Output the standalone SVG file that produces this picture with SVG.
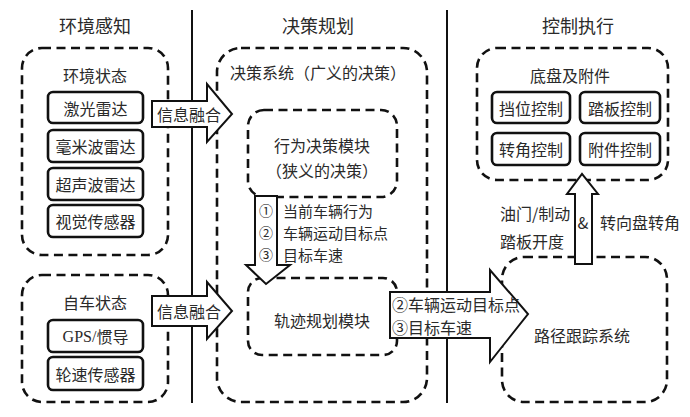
<svg xmlns="http://www.w3.org/2000/svg" width="690" height="417" viewBox="0 0 690 417">
<style>
  text { font-family: "Noto Sans CJK SC", "Noto Sans", sans-serif; fill: #2a2a2a; dominant-baseline: central; }
  .h { font-size: 18px; text-anchor: middle; }
  .t { font-size: 16px; text-anchor: middle; }
  .l { font-size: 16px; text-anchor: start; }
  .s { font-size: 15px; text-anchor: start; }
  .dash { fill: none; stroke: #111; stroke-width: 2.6; stroke-dasharray: 9 5.5; }
  .box { fill: #fff; stroke: #111; stroke-width: 2.6; }
  .arr { fill: #fff; stroke: #111; stroke-width: 2; stroke-linejoin: miter; }
  .sep { stroke: #111; stroke-width: 2; }
  .num { font-family: "Noto Sans CJK SC", "DejaVu Sans", sans-serif; font-size: 14px; text-anchor: middle; }
</style>
<rect width="690" height="417" fill="#fff"/>

<g id="separators">
  <line class="sep" x1="192" y1="10" x2="192" y2="403"/>
  <line class="sep" x1="447" y1="10" x2="447" y2="403"/>
</g>

<g id="headers">
  <text class="h" x="95" y="25">环境感知</text>
  <text class="h" x="318" y="25">决策规划</text>
  <text class="h" x="578" y="25">控制执行</text>
</g>

<g id="env-state">
  <rect class="dash" x="22" y="48" width="146" height="207" rx="20"/>
  <text class="t" x="95" y="75">环境状态</text>
</g>
<g id="lidar"><rect class="box" x="48" y="92" width="95" height="31" rx="5"/><text class="t" x="95.5" y="107.5">激光雷达</text></g>
<g id="mmwave"><rect class="box" x="48" y="130" width="95" height="32" rx="5"/><text class="t" x="95.5" y="146">毫米波雷达</text></g>
<g id="ultrasonic"><rect class="box" x="48" y="168" width="95" height="32" rx="5"/><text class="t" x="95.5" y="184">超声波雷达</text></g>
<g id="vision"><rect class="box" x="48" y="205" width="95" height="32" rx="5"/><text class="t" x="95.5" y="221">视觉传感器</text></g>

<g id="ego-state">
  <rect class="dash" x="22" y="275" width="146" height="127" rx="20"/>
  <text class="t" x="95" y="302">自车状态</text>
</g>
<g id="gps"><rect class="box" x="48" y="320" width="95" height="32" rx="5"/><text class="t" x="95.5" y="336"><tspan font-family="Liberation Serif, serif">GPS/</tspan>惯导</text></g>
<g id="wheel"><rect class="box" x="48" y="357" width="95" height="33" rx="5"/><text class="t" x="95.5" y="373.5">轮速传感器</text></g>

<g id="decision-system">
  <rect class="dash" x="217" y="48" width="210" height="354" rx="24"/>
  <text class="t" x="318" y="72">决策系统（广义的决策）</text>
</g>
<g id="behavior">
  <rect class="dash" x="248" y="110" width="149" height="87" rx="16"/>
  <text class="t" x="322" y="145">行为决策模块</text>
  <text class="t" x="322" y="170">（狭义的决策）</text>
</g>
<g id="trajectory">
  <rect class="dash" x="248" y="278" width="149" height="77" rx="14"/>
  <text class="t" x="322" y="320">轨迹规划模块</text>
</g>

<g id="chassis">
  <rect class="dash" x="477" y="48" width="191" height="132" rx="20"/>
  <text class="t" x="570" y="75">底盘及附件</text>
</g>
<g id="gear"><rect class="box" x="492" y="92" width="78" height="31" rx="5"/><text class="t" x="531" y="107.5">挡位控制</text></g>
<g id="pedal"><rect class="box" x="580" y="92" width="80" height="31" rx="5"/><text class="t" x="620" y="107.5">踏板控制</text></g>
<g id="steer"><rect class="box" x="492" y="133" width="78" height="32" rx="5"/><text class="t" x="531" y="149">转角控制</text></g>
<g id="accessory"><rect class="box" x="580" y="133" width="80" height="32" rx="5"/><text class="t" x="620" y="149">附件控制</text></g>

<g id="path-tracking">
  <rect class="dash" x="502" y="257" width="165" height="145" rx="22"/>
  <text class="t" x="582" y="335">路径跟踪系统</text>
</g>

<g id="connectors">
  <path class="arr" d="M152,101 H207 V84 L232,114 L207,142 V127 H152 Z"/>
  <text class="t" x="189" y="114">信息融合</text>
  <path class="arr" d="M152,296 H207 V282 L232,311 L207,339 V326 H152 Z"/>
  <text class="t" x="189" y="311">信息融合</text>

  <path class="arr" d="M255,196 H277 V265 H290 L266,284 L246,265 H255 Z"/>
  <text class="num" x="266" y="210">①</text>
  <text class="num" x="266" y="232">②</text>
  <text class="num" x="266" y="254">③</text>
  <text class="s" x="283" y="210">当前车辆行为</text>
  <text class="s" x="283" y="232">车辆运动目标点</text>
  <text class="s" x="283" y="254">目标车速</text>

  <path class="arr" d="M390,292 H490 V270 L528,314 L490,362 V338 H390 Z"/>
  <text class="l" x="392" y="304">②车辆运动目标点</text>
  <text class="l" x="392" y="327">③目标车速</text>

  <path class="arr" d="M575,264 V194 H567 L582,174 L598,194 H592 V264 Z"/>
  <text class="t" x="583" y="222" font-family="Liberation Serif, serif">&amp;</text>
  <text class="l" x="500" y="213">油门/制动</text>
  <text class="l" x="500" y="241">踏板开度</text>
  <text class="l" x="600" y="222">转向盘转角</text>
</g>
</svg>
